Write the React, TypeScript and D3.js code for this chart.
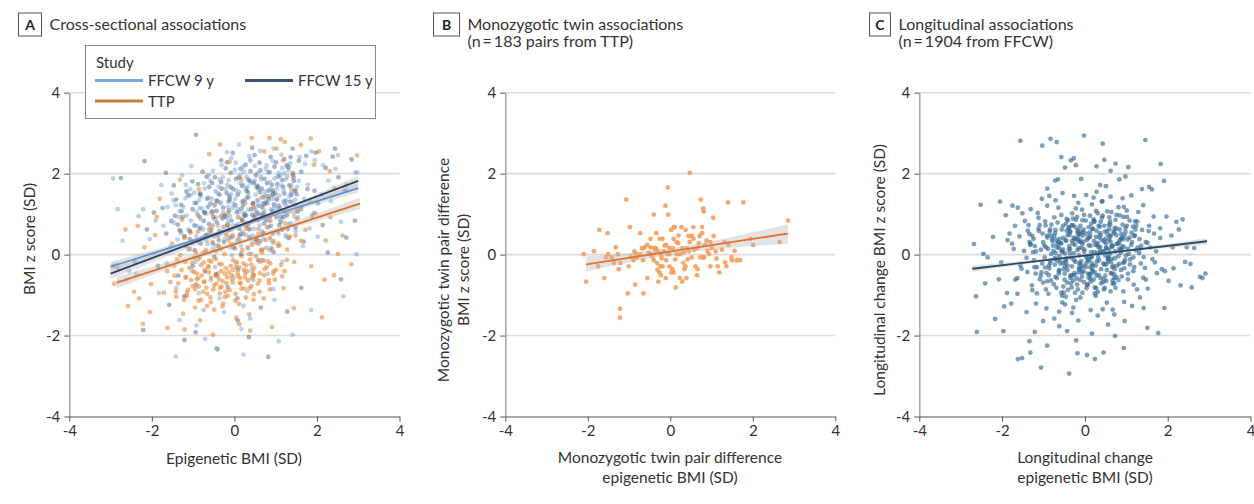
import React, { useEffect, useRef } from 'react';
import * as d3 from 'd3';

// axis ticks shared by all three panels
const axisTicks = [-4, -2, 0, 2, 4];
const gridTicks = [-2, 0, 2, 4];

// Panel A - cross-sectional, flat [x, y, x, y, ...]
const ffcw9Points = [
  0.35,1.42, -0.48,0.87, 1.12,1.95, 0.06,0.33, -1.21,0.45, 0.78,2.21, -0.15,1.18, 1.54,0.92, 0.42,-0.35, -0.72,1.63,
  0.91,1.37, -1.64,-0.22, 0.23,2.05, 1.38,1.71, -0.33,0.12, 0.67,0.58, -0.92,1.05, 2.11,1.48, 0.14,1.76, -0.57,-0.64,
  1.05,0.21, -0.08,2.38, 0.52,1.09, -1.35,0.93, 1.71,2.24, 0.31,-0.91, -0.41,1.52, 0.84,0.83, -2.05,0.38, 1.26,1.22,
  -0.19,0.71, 0.62,2.56, -1.02,-0.41, 1.93,1.03, 0.18,1.31, -0.65,0.26, 0.97,1.88, -1.48,1.34, 0.44,0.47, 2.45,2.12,
  -0.28,1.91, 1.16,-0.18, -0.81,0.68, 0.58,1.61, -2.38,-0.47, 1.47,1.57, 0.03,-0.22, -0.52,2.07, 0.73,1.24, -1.18,1.72,
  1.82,0.65, -0.11,0.95, 0.39,2.31, -1.72,0.71, 1.09,1.46, -0.36,-1.08, 0.86,0.11, -0.97,1.28, 2.72,1.58, 0.27,0.79,
  -0.63,1.41, 1.31,2.08, -1.41,-0.83, 0.49,1.83, -0.02,-0.56, 1.62,1.19, -0.77,0.05, 0.95,2.62, -2.71,0.34, 0.12,1.54,
  1.24,0.48, -0.25,-1.42, 0.69,1.02, -1.56,0.18, 2.28,1.83, -0.44,0.91, 0.33,0.15, 1.58,2.41, -0.86,-0.95, 0.08,1.12,
  -1.27,1.96, 0.81,-0.48, 1.95,2.33, -0.13,0.42, 0.57,1.35, -2.21,1.12, 1.36,0.77, -0.59,1.83, 0.22,-1.27, 1.03,1.63,
  -0.95,-0.18, 2.58,0.81, 0.47,0.64, -0.31,2.21, 1.69,1.38, -1.83,-0.95, 0.11,2.72, 0.88,0.36, -0.69,0.48, 1.21,2.01,
  -0.06,-0.02, 2.93,2.03, 0.64,1.92, -1.12,0.62, 1.44,1.04, 0.26,0.98, -0.38,1.68, 0.94,-0.85, -2.55,-0.41, 1.78,1.73,
  0.17,-1.84, -1.52,1.51, 0.74,1.47, -0.22,0.55, 1.14,2.47, -0.84,1.15, 0.41,0.02, 2.02,0.44, -1.04,2.18, 0.55,1.71,
  -0.47,-0.31, 1.33,1.44, 0.02,1.38, -1.91,0.84, 0.89,1.12, -0.14,1.84, 1.66,0.21, 0.36,2.44, -0.74,-1.37, 1.02,0.95,
  -1.33,-1.62, 2.34,1.32, 0.59,0.26, -0.56,1.06, 1.25,1.86, -0.03,0.72, 0.81,2.03, -1.62,1.18, 0.15,0.51, 1.87,2.55,
  -0.35,1.29, 0.71,-0.15, -1.06,1.47, 1.49,0.57, 0.29,1.63, -0.89,0.33, 2.15,2.21, 0.46,-0.63, -0.18,2.53, 1.18,1.31,
  -2.94,1.88, -2.86,-0.24, 2.98,2.03, 2.96,0.01, -1.42,-2.52, 0.22,-2.47, 1.07,-2.14, -0.71,-2.08, 1.41,-1.98, -2.83,1.12,
  -2.62,-0.62, 2.64,-1.03, 2.51,2.46, -2.32,0.95, 0.38,-1.58, -0.92,-1.75, 1.86,-1.37, -1.77,1.72, 0.97,-1.12, -0.44,-2.31,
  0.12,1.05, -0.42,1.33, 0.87,1.62, -0.91,0.71, 0.35,0.44, 1.28,1.93, -0.17,1.72, 0.63,0.97, -1.24,1.18, 0.94,0.28,
  -0.63,0.52, 0.21,2.17, 1.47,1.36, -0.05,0.63, 0.51,1.48, -1.38,0.37, 0.76,2.12, -0.29,0.96, 1.11,0.86, 0.04,1.59,
  -0.81,1.44, 0.43,0.83, 1.35,2.26, -0.52,0.14, 0.68,1.27, -1.07,1.62, 0.29,1.92, 1.02,1.12, -0.24,0.38, 0.57,2.03,
  -0.68,1.01, 0.16,0.21, 1.19,1.58, -1.46,0.78, 0.82,0.67, -0.12,1.41, 0.47,1.15, -0.87,-0.12, 1.56,1.82, 0.08,0.92,
  -0.36,1.85, 0.71,0.39, -1.16,0.96, 0.32,1.68, 1.23,1.01, -0.58,0.67, 0.93,2.31, -0.02,1.26, 0.61,0.72, -0.97,1.53,
  0.19,0.57, 1.41,1.29, -0.44,0.22, 0.86,1.79, -1.29,0.53, 0.38,2.36, -0.15,0.82, 1.07,0.52, -0.73,1.76, 0.53,1.04,
  -0.21,1.62, 1.32,0.74, 0.01,2.09, -1.02,0.29, 0.74,1.56, -0.49,1.21, 0.26,1.36, 1.16,2.14, -0.83,0.88, 0.44,0.31,
  1.52,1.67, -0.31,0.54, 0.65,1.86, -1.19,1.39, 0.09,0.76, 0.97,1.19, -0.62,1.97, 0.34,1.11, 1.26,0.43, -0.08,1.49,
  -0.92,0.46, 0.55,1.33, 1.08,2.02, -0.39,0.71, 0.21,1.73, -1.33,1.08, 0.81,0.94, -0.11,0.17, 1.37,1.52, 0.37,0.62,
  -0.55,1.38, 0.93,1.46, -1.11,0.12, 0.15,1.97, 1.21,1.25, -0.27,1.04, 0.69,0.51, -0.76,0.62, 0.49,2.19, 1.45,0.94,
  -0.04,1.16, -1.42,1.22, 0.78,1.31, -0.46,1.57, 0.27,0.49, 1.14,1.71, -0.86,1.34, 0.58,0.87, 0.03,2.27, -0.67,0.35,
  1.02,1.38, -0.19,0.92, 0.41,1.77, -1.05,0.84, 1.29,2.17, 0.13,0.36, -0.33,1.27, 0.72,1.09, -0.78,1.13, 0.88,0.16
];

const ffcw15Points = [
  0.41,1.12, -0.36,0.58, 1.04,1.74, -0.12,1.45, 0.62,0.33, -0.88,0.97, 1.35,1.31, 0.15,2.12, -1.17,0.21, 0.83,1.58,
  -0.54,1.77, 1.62,2.05, 0.28,0.71, -1.41,1.36, 0.95,0.06, -0.07,0.84, 1.21,2.36, -0.71,-0.42, 0.52,1.96, 2.03,1.27,
  -0.25,0.31, 0.74,1.28, -1.02,1.81, 1.48,0.67, 0.09,-0.37, -1.65,0.52, 0.88,2.41, -0.43,1.08, 1.77,1.62, 0.33,1.53,
  -0.93,-0.74, 1.13,0.94, -0.18,2.28, 0.67,0.12, -1.28,1.07, 2.21,2.14, 0.21,1.22, -0.62,0.76, 1.43,1.91, -1.85,-0.28,
  0.56,0.85, -0.31,1.63, 0.99,1.51, -1.08,0.38, 1.68,0.32, 0.04,1.87, -0.77,2.05, 1.29,0.63, 0.46,-0.51, -1.53,0.83,
  0.79,1.76, -0.02,0.18, 1.94,1.58, -0.49,-0.06, 0.61,2.27, -2.12,0.62, 1.07,1.21, 0.24,1.02, -0.83,1.48, 2.52,1.91,
  -0.16,-0.81, 0.93,0.52, -1.36,-0.52, 1.56,2.32, 0.37,0.41, -0.58,1.26, 1.22,1.08, -0.04,2.51, 0.71,1.42, -1.74,1.15,
  1.88,0.96, 0.12,0.64, -0.96,0.11, 0.54,1.66, 1.41,2.62, -0.39,0.47, 0.86,0.94, -2.41,-0.18, 0.19,1.69, 1.16,1.84,
  -0.67,1.92, 2.38,2.42, 0.45,1.27, -1.22,-1.03, 0.97,2.17, -0.23,0.93, 1.61,1.12, 0.07,-1.08, -0.84,0.64, 1.32,0.41,
  0.63,2.08, -1.47,1.71, 0.28,0.97, 2.67,1.58, -0.52,0.27, 0.82,1.37, -0.14,1.31, 1.74,2.44, -1.01,-0.29, 0.38,1.81,
  1.09,0.73, -0.32,2.33, 0.58,-0.14, -1.95,1.04, 1.51,1.49, 0.16,0.02, -0.73,1.05, 2.14,0.73, 0.93,1.58, -0.09,1.67,
  -1.31,0.58, 0.49,2.46, 1.27,2.21, -0.45,-0.49, 0.72,0.77, -2.21,-1.86, -0.94,-1.92, 0.35,-2.04, 1.28,-1.41, -1.58,-1.24,
  0.08,-1.63, -0.41,-2.34, 0.64,-1.31, 1.62,-0.82, -1.21,-2.11, 0.82,-2.53, 2.58,-0.61, 2.92,0.84, 2.84,2.35, -2.93,-0.28,
  -2.75,1.89, -2.18,2.31, 2.44,2.62, 1.97,2.52, -0.93,2.96, 1.36,2.41, 0.43,2.64, -1.66,2.02, 2.26,0.05, 2.71,0.42,
  0.22,1.32, -0.51,0.93, 0.96,1.24, -0.14,0.61, 0.47,1.77, -1.08,0.58, 1.21,1.51, 0.06,1.04, -0.66,1.38, 0.71,0.53,
  1.44,1.82, -0.27,1.16, 0.35,0.77, -0.93,1.27, 0.85,2.04, -0.03,1.62, 1.12,0.81, -1.25,0.93, 0.58,1.21, -0.38,0.36,
  0.27,2.22, 1.03,1.36, -0.74,0.83, 0.43,0.98, 1.31,2.16, -0.19,1.52, 0.66,1.63, -1.16,1.56, 0.13,0.48, 0.92,1.08,
  -0.47,1.91, 1.49,1.23, 0.31,1.41, -0.82,0.27, 0.76,0.86, -0.09,2.02, 1.18,1.67, -1.37,0.74, 0.52,0.37, -0.29,0.89,
  0.83,1.44, 0.02,1.22, -0.61,1.67, 1.27,0.97, 0.39,2.06, -1.01,1.12, 0.67,1.17, -0.17,0.74, 1.06,1.93, 0.19,0.86,
  -0.43,1.33, 1.38,1.48, -0.88,1.74, 0.57,1.02, -0.06,0.43, 0.91,1.72, -1.21,0.44, 0.29,1.58, 1.16,0.62, -0.56,0.61,
  0.45,1.26, -0.32,1.79, 1.53,1.06, 0.11,1.91, -0.72,1.03, 0.79,1.27, -1.44,0.96, 0.36,0.63, 1.01,2.28, -0.24,0.97,
  0.62,1.54, -0.97,0.72, 1.24,1.33, -0.11,1.36, 0.48,0.92, 1.42,2.01, -0.64,1.18, 0.17,1.13, 0.88,0.71, -0.36,1.48,
  -1.12,1.46, 0.73,1.87, 0.05,0.71, 1.11,1.14, -0.53,1.06, 0.34,1.85, -0.83,1.51, 1.33,1.71, 0.24,0.96, -0.21,2.13,
  0.94,1.51, -0.42,0.79, 0.57,1.68, -1.29,1.23, 1.19,0.92, 0.08,1.48, -0.69,0.47, 0.69,0.98, 1.47,1.58, -0.13,1.09
];

const ttpPoints = [
  -0.45,-0.52, 0.32,0.18, -1.12,-0.87, 0.05,-0.31, -0.78,0.42, 0.61,-0.64, -0.23,-1.05, 1.05,0.57, -1.46,-0.28, 0.18,0.83,
  -0.61,-0.15, 0.87,-0.22, -0.95,-1.31, 0.41,-0.78, -0.08,0.26, -1.33,0.61, 1.28,0.12, -0.37,-0.61, 0.72,1.24, -1.71,-0.94,
  0.26,-0.46, -0.52,0.72, 1.52,0.88, -0.88,-0.58, 0.11,-1.22, -1.08,0.14, 0.95,-0.41, -0.19,0.48, -2.02,-0.73, 0.55,0.35,
  -0.66,-0.97, 1.84,1.31, -0.31,-0.24, 0.38,-0.12, -1.24,-1.46, 0.79,0.68, -0.04,-0.69, -0.84,0.93, 1.16,-0.54, -0.44,0.08,
  -1.02,-0.21, 0.21,0.51, -0.57,-1.18, 0.67,0.05, -1.51,0.27, 1.38,1.62, -0.13,-0.43, 0.47,-0.98, -0.93,0.36, 0.02,0.15,
  -0.35,-0.82, 1.02,0.92, -1.18,-0.55, 0.29,-0.27, -0.72,-0.38, 0.84,-0.71, -0.16,1.02, -1.39,-0.12, 0.58,0.63, -0.49,-1.36,
  1.61,0.34, -0.86,-0.79, 0.14,-0.58, -0.27,0.68, 1.23,0.78, -1.63,-0.41, 0.43,0.24, -0.69,0.11, 0.92,1.47, -1.15,-1.02,
  0.09,0.39, -0.41,-0.47, 0.73,-0.36, -1.92,0.48, 1.45,-0.18, -0.22,-0.92, 0.51,0.97, -0.97,-0.08, 0.36,-1.48, -0.58,0.52,
  1.09,0.22, -1.27,0.86, -0.03,-0.14, 0.66,1.41, -0.81,-1.12, 1.72,0.61, -0.38,0.22, 0.24,-0.84, -1.55,-0.68, 0.86,0.42,
  -0.11,0.62, -0.74,-0.66, 1.33,1.06, -0.29,-1.28, 0.48,-0.52, -1.06,0.54, 0.17,-0.04, 1.96,1.02, -0.63,-0.29, 0.04,-1.56,
  -1.42,-0.92, 0.77,0.16, -0.47,1.24, 1.19,-0.83, -0.91,-0.47, 0.31,0.71, -2.31,-1.08, 0.62,-0.18, -0.18,-0.56, 1.48,0.47,
  1.12,2.85, 1.22,2.78, 1.85,2.87, 0.42,2.88, 1.02,2.62, -0.35,2.72, 0.72,2.55, 2.31,2.06, -1.32,1.85, 2.05,2.55,
  -0.61,2.48, 0.85,2.88, 1.61,2.71, 1.18,2.33, 1.93,2.22, -0.12,2.29, 1.42,1.96, 2.42,1.64, 0.16,1.86, -0.86,1.62,
  -1.62,-1.81, -2.22,-1.71, 0.91,-1.79, 2.12,-1.55, -0.52,-1.98, 0.38,-1.88, -1.21,-1.85, 1.44,-1.32, -0.83,-1.63, 0.12,-1.72,
  2.51,0.02, 2.83,-0.24, 2.62,0.47, 2.97,2.45, 2.41,-0.51, 2.21,0.35, 2.71,1.72, 2.18,-0.62, 1.86,-0.29, 2.33,0.92,
  -2.82,-0.34, -2.64,0.62, -2.43,-0.92, -2.18,0.18, -1.88,0.93, -2.58,-1.27, -1.81,1.38, -2.05,-1.42, -2.34,0.71, -2.91,-0.72,
  -0.32,-0.41, 0.15,-0.72, -0.81,-0.26, 0.48,-0.33, -0.12,-0.88, -1.05,-0.63, 0.72,-0.51, -0.45,-0.11, 0.28,-1.06, -0.68,-0.82,
  0.91,0.14, -0.21,-0.34, -1.28,-0.38, 0.36,0.02, -0.57,-0.57, 0.08,-0.46, -0.93,0.05, 0.61,-0.92, -0.27,-1.21, 1.13,-0.26,
  -0.74,-0.19, 0.22,-0.22, -1.15,-0.94, 0.54,0.29, -0.06,-0.61, -0.49,-0.76, 0.83,-0.63, -0.98,-0.43, 0.31,-0.41, -0.36,0.18,
  -1.36,-0.71, 0.68,-0.14, -0.16,-1.02, 0.42,-0.58, -0.63,-0.31, 1.01,-0.38, -0.87,-1.14, 0.11,-0.31, -0.41,-0.53, 0.76,0.36,
  -1.19,-0.18, 0.03,-0.97, -0.53,0.31, 0.57,-0.72, -0.23,-0.47, -0.79,-0.52, 0.94,-0.47, -1.45,-0.52, 0.19,0.11, -0.35,-0.96,
  0.46,-1.12, -0.71,0.06, 1.21,-0.41, -0.09,-0.28, -1.01,-0.78, 0.33,-0.64, -0.58,-1.06, 0.78,-0.31, -0.14,0.36, -1.22,-1.12,
  0.62,-0.46, -0.44,-0.72, 0.09,-0.53, -0.91,-0.61, 1.06,0.27, -0.28,-0.66, 0.41,-0.24, -0.66,-1.27, 0.17,-0.84, -1.31,-0.02,
  0.86,-0.86, -0.03,-0.38, -0.76,-0.92, 0.52,-0.04, -0.37,-0.23, -1.09,-0.33, 0.26,-0.56, 0.71,-1.08, -0.51,-0.86, 0.06,-0.18,
  -0.19,-0.71, 0.98,-0.62, -0.84,-0.07, 0.37,-0.83, -1.41,-1.04, 0.13,-0.69, -0.62,-0.44, 0.64,0.11, -0.24,0.01, -0.95,-0.85,
  1.27,-0.13, -0.07,-0.51, -0.56,-0.17, 0.44,-0.43, -1.18,-0.57, 0.81,-0.17, -0.31,-0.79, 0.23,-0.38, -0.73,-0.68, 0.02,-1.14,
  -0.48,0.45, 0.58,0.51, -1.02,0.33, 0.29,0.63, -0.15,0.73, 0.87,0.84, -0.61,0.62, 1.15,0.62, 0.12,0.92, -0.88,0.57,
  0.47,1.18, -0.32,0.95, 1.34,0.45, -1.21,0.41, 0.72,1.02, -0.04,0.48, 0.95,0.33, -0.54,1.01, 0.26,1.27, 1.52,1.08
];

// Panel B - twin pair differences (TTP)
const twinPoints = [
  0.47,2.02, -0.06,1.66, -1.07,1.36, 0.74,1.36, 1.40,1.29, 1.77,1.29, -0.12,1.21, 0.80,1.14, 0.81,1.07, -0.40,0.99,
  -0.05,0.99, 1.04,0.91, 2.85,0.84, -0.98,0.68, 0.08,0.68, 0.27,0.68, 0.11,0.68, 0.56,0.68, 0.77,0.68, -1.72,0.61,
  -1.52,0.53, -0.73,0.53, -0.34,0.53, 0.02,0.61, 0.37,0.61, 0.44,0.46, 0.52,0.46, 0.71,0.46, 0.77,0.53, 1.05,0.46,
  1.94,0.39, -0.26,0.39, -0.19,0.39, -0.48,0.39, 0.08,0.39, 0.15,0.31, 0.47,0.31, 0.56,0.39, 0.97,0.31, 1.31,0.31,
  1.41,0.24, 2.01,0.24, 2.65,0.31, -0.56,0.24, -0.48,0.18, -0.62,0.18, -0.40,0.16, -0.35,0.16, -0.69,0.16, -0.66,0.16,
  -0.10,0.24, -0.02,0.16, 0.06,0.16, 0.29,0.16, 0.40,0.16, 0.65,0.16, 0.84,0.24, 0.90,0.09, 1.01,0.16, 1.56,0.09,
  -2.10,0.01, -1.85,0.08, -1.51,0.01, -1.42,-0.07, -1.27,0.01, -0.87,0.08, -0.81,-0.07, -0.73,0.01, -0.48,0.01, -0.29,0.08,
  -0.23,0.01, -0.16,0.08, -0.06,0.01, -0.03,0.01, 0.16,0.01, 0.24,0.01, 0.45,0.08, 0.52,-0.07, 0.73,-0.07, 0.79,-0.07,
  0.82,-0.07, 0.94,0.01, 1.10,0.08, 1.48,-0.07, 1.50,-0.14, 1.61,-0.14, 1.69,-0.14, -1.56,-0.07, -1.75,-0.29, -1.37,-0.21,
  -1.21,-0.21, -1.01,-0.29, -1.25,-0.36, -0.89,-0.14, -0.66,-0.14, -0.40,-0.14, -0.32,-0.21, -0.24,-0.29, -0.19,-0.29, -0.10,-0.14,
  -0.02,-0.29, 0.05,-0.36, 0.08,-0.44, 0.32,-0.21, 0.34,-0.36, 0.37,-0.29, 0.61,-0.29, 0.66,-0.36, 0.65,-0.51, 0.97,-0.29,
  1.15,-0.29, 1.19,-0.44, 1.36,-0.29, -0.56,-0.58, -0.29,-0.67, -0.11,-0.58, 0.02,-0.44, 0.23,-0.58, 0.29,-0.67, 0.39,-0.58,
  0.13,-0.81, -0.85,-0.74, -2.04,-0.67, -1.60,-0.58, -1.03,-0.96, -0.65,-0.96, -1.22,-1.34, -1.22,-1.56, -0.26,-0.44, -0.23,-0.51,
  -0.36,0.10, -0.14,0.22, 0.19,0.28, 0.33,0.05, -0.44,-0.05, 0.58,0.12, -0.83,0.02, 0.12,-0.12, 0.69,0.28, -0.21,-0.09,
  0.42,-0.12, -0.52,0.05, 0.88,0.35, 1.25,0.12, -0.95,-0.05, 0.20,0.47, -0.31,-0.38, 1.12,-0.10, 1.33,-0.19, -1.32,0.18
];

// Panel C - longitudinal change (FFCW)
const longitudinalPoints = [
  -0.12,0.35, 0.45,-0.22, -0.67,0.18, 0.23,0.81, -1.05,-0.44, 0.88,0.12, -0.34,-0.71, 1.21,0.47, 0.05,-0.09, -0.56,0.62,
  0.71,-0.58, -1.32,0.24, 0.38,0.05, -0.21,-1.12, 1.02,0.93, -0.83,-0.15, 0.17,1.24, 0.62,-0.91, -0.48,0.03, 1.45,-0.33,
  -0.05,0.56, -1.68,-0.62, 0.92,0.38, -0.29,0.27, 0.54,1.07, -0.95,0.72, 0.11,-0.48, 1.33,0.15, -0.62,-0.38, 0.29,-0.17,
  -1.14,1.03, 0.76,0.64, -0.41,-0.87, 1.67,0.52, -0.18,0.11, 0.43,-1.35, -0.74,0.45, 1.09,-0.12, 0.02,0.84, -1.47,0.09,
  0.35,0.42, -0.88,-0.97, 0.64,0.21, -0.26,1.45, 1.18,-0.74, -0.53,-0.21, 0.81,1.17, -1.22,-0.31, 0.21,-0.62, -0.09,-0.33,
  0.14,0.22, -0.37,0.49, 0.57,-0.05, -0.71,-0.55, 0.98,0.66, -0.15,-0.44, 0.31,1.02, -1.01,0.31, 0.69,-0.28, -0.44,0.88,
  1.51,0.29, -0.02,-0.68, 0.48,0.57, -0.81,0.02, 0.26,-1.02, -1.58,0.45, 0.84,0.35, -0.23,-0.18, 1.26,0.82, -0.64,1.16,
  0.07,0.41, -0.96,-0.32, 0.59,0.92, -0.32,-0.51, 1.04,-0.47, -0.11,0.71, 0.39,-0.36, -1.28,-0.76, 0.73,0.08, -0.58,0.28,
  1.38,0.61, 0.19,-0.27, -0.46,-1.04, 0.95,-0.18, -0.07,1.11, 0.51,0.16, -1.11,0.58, 0.28,0.59, -0.69,-0.82, 1.63,-0.11,
  -0.27,0.03, 0.67,-0.72, -1.41,-0.08, 0.12,0.96, 0.88,0.51, -0.52,0.41, 0.46,-0.61, -0.17,-0.86, 1.12,0.24, -0.91,1.21,
  0.04,-0.21, -0.39,0.66, 0.77,0.26, -1.19,-0.47, 0.33,0.18, -0.76,0.09, 1.29,1.05, -0.04,0.32, 0.61,0.74, -0.31,-0.29,
  -0.61,-0.12, 0.24,-0.81, 1.41,-0.57, -1.63,-0.97, 0.87,-0.38, -0.13,0.51, 0.42,1.32, -0.85,0.57, 0.16,-0.05, 1.01,0.71,
  -0.49,-0.62, 0.58,0.37, -1.36,0.73, 0.09,-0.57, 0.72,-0.09, -0.22,0.86, 1.19,-0.31, -0.73,-0.25, 0.36,0.69, -0.03,-0.42,
  1.72,0.08, -1.06,0.12, 0.52,-0.24, -0.36,0.14, 0.94,1.18, -0.57,-0.94, 0.27,0.44, -1.24,0.39, 0.65,-0.47, -0.14,-0.02,
  1.54,0.58, -0.42,-0.38, 0.81,-0.63, -0.91,0.47, 0.18,0.63, -0.28,-1.31, 1.08,0.42, -1.72,0.14, 0.44,0.08, -0.66,0.79,
  0.99,-0.02, -0.19,-0.59, 0.63,0.48, -1.53,-0.35, 0.13,-0.31, 1.35,-0.22, -0.54,0.06, 0.31,0.29, -0.82,-0.64, 0.76,0.98,
  -0.08,0.17, 0.55,-0.11, -1.16,-0.96, 0.21,1.41, -0.45,0.34, 1.23,0.11, -0.72,-0.09, 0.06,-0.73, 0.89,0.21, -0.35,0.57,
  -0.98,0.23, 0.47,0.32, -0.12,-0.24, 1.47,0.31, -0.63,-0.47, 0.34,-0.51, -1.34,0.51, 0.71,0.54, -0.25,0.38, 0.15,0.06,
  1.86,-0.36, -1.87,0.36, 0.93,-0.91, -0.55,-1.18, 0.38,0.81, -1.09,-0.61, 1.16,0.69, -0.16,1.28, 0.61,0.03, -0.87,-0.27,
  0.03,0.52, -0.47,-0.14, 0.83,-0.23, -0.32,0.72, 0.48,-0.82, -1.25,0.06, 1.04,0.15, -0.06,-0.94, 0.26,0.24, -0.68,0.36,
  0.08,-0.15, -0.27,0.42, 0.51,0.27, -0.63,-0.41, 0.19,0.64, -0.94,0.18, 0.72,-0.36, -0.11,-0.63, 0.37,0.09, -0.46,0.76,
  0.96,0.47, -0.33,-0.08, 0.24,-0.44, -0.78,0.33, 0.61,0.82, -0.06,0.26, 1.17,-0.07, -0.52,-0.79, 0.13,0.46, -1.03,-0.22,
  0.44,-0.68, -0.19,0.93, 0.83,0.14, -0.71,0.61, 0.02,-0.31, 1.32,0.38, -0.38,0.21, 0.56,-0.17, -0.87,-0.51, 0.27,1.08,
  -0.14,-0.37, 0.69,0.57, -1.18,0.08, 0.31,-0.92, -0.42,0.48, 0.89,-0.54, -0.01,0.13, 0.47,0.71, -0.66,-0.16, 1.06,0.02,
  -0.23,0.68, 0.16,-0.06, -0.91,-0.66, 0.62,0.32, -0.35,-0.52, 1.24,0.71, 0.04,-0.83, -0.58,0.28, 0.78,-0.27, -1.27,0.46,
  0.29,0.24, -0.48,-0.29, 0.93,0.93, -0.09,0.53, 0.53,-0.38, -0.74,0.92, 0.11,-0.12, 1.42,-0.06, -0.31,1.02, 0.66,0.19,
  -0.97,-0.07, 0.38,-0.58, -0.17,0.34, 0.84,0.62, -0.55,-1.02, 0.21,0.87, -1.39,-0.43, 0.74,-0.82, -0.05,0.47, 0.49,-0.02,
  -0.39,0.12, 1.13,0.54, -0.82,0.47, 0.07,-0.47, 0.64,1.05, -0.24,-0.94, 0.41,0.36, -1.09,0.73, 0.97,-0.13, -0.13,-0.21,
  0.26,-0.27, -0.67,0.26, 0.55,0.49, -0.28,-0.64, 1.08,0.84, -0.44,0.59, 0.14,-0.67, -1.23,-0.14, 0.82,0.29, -0.02,0.98,
  0.71,-0.49, -0.53,0.13, 0.33,0.71, -0.86,-0.34, 0.09,0.23, 1.27,0.17, -0.18,0.58, 0.46,-0.86, -0.75,-0.73, 0.59,0.63,
  -0.07,-0.54, 0.87,0.39, -1.12,0.64, 0.23,0.06, -0.41,0.84, 0.67,-0.64, -0.26,-0.14, 1.01,1.09, -0.61,0.39, 0.18,-0.37,
  0.41,0.91, -0.94,-0.86, 0.57,-0.09, -0.15,0.16, 0.95,-0.34, -0.49,-0.47, 0.12,0.55, -0.77,0.22, 1.19,0.46, -0.29,0.73,
  0.34,-0.14, -0.59,-0.22, 0.76,0.48, -1.31,0.27, 0.06,-0.76, 0.52,0.16, -0.21,0.39, 0.91,0.74, -0.84,0.62, 0.28,-0.52,
  -0.44,-0.09, 1.36,0.22, -0.06,0.85, 0.63,-0.46, -0.71,0.04, 0.17,-0.22, -1.02,0.52, 0.81,-0.04, -0.32,-0.81, 0.49,0.38,
  -0.16,0.44, 0.72,0.66, -0.53,0.71, 0.03,-0.04, 1.04,-0.61, -0.89,0.14, 0.39,-0.71, -0.37,0.57, 0.86,0.11, -0.11,-1.06,
  0.58,0.12, -0.68,-0.58, 0.22,0.33, -1.16,-0.31, 0.47,-0.25, -0.03,0.62, 1.14,0.31, -0.47,0.36, 0.74,0.86, -0.25,-0.46,
  0.15,0.76, -0.79,0.38, 0.93,-0.21, -0.36,0.03, 0.36,0.53, -1.07,-0.52, 0.64,-0.11, -0.14,-0.32, 1.22,0.62, -0.57,0.98,
  0.05,0.36, -0.43,-0.69, 0.79,0.27, -0.24,0.24, 0.52,-0.65, -0.96,0.82, 0.31,0.04, -0.62,-0.04, 1.09,-0.24, 0.13,-0.59,
  -0.31,0.34, 0.66,-0.31, -0.84,-0.21, 0.43,0.96, -0.09,-0.16, 0.98,0.56, -0.51,-0.36, 0.24,-0.96, -1.21,0.21, 0.89,0.42,
  -0.02,0.07, 0.61,0.44, -0.72,0.53, 0.18,-0.41, -0.38,0.67, 1.31,0.04, -0.19,-0.74, 0.54,0.58, -0.93,-0.45, 0.37,0.19,
  0.27,-0.83, -0.57,0.09, 0.84,0.97, -0.12,0.31, 0.49,-0.52, -1.34,0.31, 0.09,0.68, -0.46,-0.19, 0.71,-0.71, -0.22,1.14,
  0.94,0.19, -0.35,-0.58, 0.32,-0.06, -0.81,0.74, 0.58,0.74, -0.07,-0.43, 1.17,-0.41, -0.63,0.17, 0.22,0.83, -1.01,-0.69,
  0.46,0.07, -0.17,0.52, 0.76,-0.56, -0.51,-0.94, 0.11,0.42, -0.73,-0.11, 1.03,0.37, -0.29,0.89, 0.63,-0.19, -0.04,-0.27,
  -0.91,0.42, 0.38,0.48, -0.26,-0.51, 0.87,0.05, -0.64,0.31, 0.14,-0.49, 1.21,0.82, -0.42,-0.27, 0.67,0.23, -0.15,0.62,
  -1.45,0.83, 1.52,-0.84, -1.31,1.12, 1.66,0.94, -1.63,-0.58, 1.41,1.22, -0.54,1.52, 0.71,-1.48, -1.18,-1.21, 1.74,-0.46,
  0.28,1.55, -0.93,-1.33, 1.33,-1.06, -1.76,0.27, 0.91,1.39, -0.31,-1.44, 1.58,0.18, -1.51,1.02, 0.53,-1.19, -0.71,1.34,
  1.82,0.41, -1.27,-0.88, 0.14,-1.37, 1.12,1.46, -1.69,0.71, 0.62,1.43, -0.48,-1.23, 1.47,-0.62, -1.04,1.38, 0.95,-1.17,
  -1.56,-0.27, 0.41,1.31, 1.69,-0.19, -0.86,1.45, 1.26,-0.86, -1.38,0.59, 0.03,1.47, -0.62,-1.41, 1.55,0.71, -1.12,0.91,
  // spread outward
  -1.91,0.97, -2.08,-0.61, -2.41,-0.71, -2.68,0.26, -2.52,1.23, -2.63,-1.03, -2.22,0.44, -1.95,-1.28, -2.35,-0.07, -2.05,1.31,
  -1.75,1.21, -1.62,1.16, -1.88,-0.95, -2.17,-1.59, -2.61,-1.91, -1.97,-1.89, -1.82,0.52, -2.02,-0.19, -2.45,0.02, -1.78,-1.21,
  2.21,0.81, 2.36,0.87, 2.14,-0.34, 2.58,-0.81, 2.91,-0.47, 2.78,-0.55, 2.46,0.18, 2.64,0.16, 2.09,0.47, 2.31,-0.76,
  1.97,0.94, 2.02,-0.65, 2.84,-0.58, 2.42,-0.18, 1.92,-1.32, 1.93,-0.41, 2.27,0.62, 2.55,-0.23, 1.82,0.65, 2.12,0.18,
  -1.56,2.81, -1.03,2.69, -0.83,2.86, -0.68,2.78, -0.02,2.94, 0.43,2.74, 1.46,2.83, -0.57,2.41, -0.34,2.33, -0.27,2.38,
  -0.48,2.15, -0.22,2.21, 0.28,2.18, 0.47,2.34, 0.62,2.07, 0.74,2.25, 1.05,2.16, 1.83,2.24, 1.91,1.82, 0.83,1.86,
  -0.65,1.86, -0.72,1.83, -0.09,1.87, 0.98,1.93, 1.55,1.67, 1.38,1.62, 1.62,1.61, 0.37,1.72, 0.51,1.69, -0.91,1.63,
  -1.06,-2.79, -0.38,-2.94, 0.24,-2.58, 0.45,-2.42, -1.62,-2.58, -1.52,-2.56, -1.32,-2.42, 0.94,-2.31, -0.91,-2.25, -0.18,-2.44,
  -0.21,-2.12, 0.05,-2.48, 0.73,-2.01, 1.77,-1.94, 1.51,-1.81, -1.34,-2.14, -1.21,-1.91, -0.43,-1.89, 0.17,-1.95, -0.62,-1.77,
  0.56,-1.73, 0.96,-1.64, -1.01,-1.64, 1.42,-1.32, 0.31,-1.51, -0.16,-1.63, -0.74,-1.58, 1.14,-1.27, -1.41,-1.42, 0.67,-1.36
];

// regression lines [x0, y0, x1, y1]
const fitFfcw9 = [-3.0, -0.3, 3.0, 1.64];
const fitFfcw15 = [-3.0, -0.47, 3.0, 1.82];
const fitTtp = [-2.85, -0.69, 3.04, 1.26];
const fitTwin = [-2.04, -0.24, 2.85, 0.52];
const fitLong = [-2.72, -0.35, 2.95, 0.33];

// 95% CI bands: [x, lower, upper]
const bandFfcw9 = [[-3.0, -0.42, -0.18], [0.2, 0.69, 0.77], [3.0, 1.52, 1.77]];
const bandFfcw15 = [[-3.0, -0.6, -0.34], [0.2, 0.67, 0.75], [3.0, 1.69, 1.95]];
const bandTtp = [[-2.85, -0.83, -0.55], [0.1, 0.25, 0.35], [3.04, 1.12, 1.41]];
const bandTwin = [[-2.04, -0.42, -0.05], [0.3, 0.04, 0.2], [2.85, 0.27, 0.75]];
const bandLong = [[-2.72, -0.43, -0.27], [0.1, -0.03, 0.02], [2.95, 0.25, 0.41]];

const legendItems = [
  { label: 'FFCW 9 y', color: '#7ea8dc' },
  { label: 'FFCW 15 y', color: '#3d5172' },
  { label: 'TTP', color: '#c97b38' },
];

const toPairs = (flat: number[]) => d3.range(0, flat.length, 2).map((i) => [flat[i], flat[i + 1]]);

function App() {
  const ref = useRef<SVGSVGElement>(null);

  useEffect(() => {
    const svg = d3.select(ref.current);
    svg.selectAll('*').remove();

    const font = 'Lato, "Open Sans", sans-serif';
    const textColor = '#333';
    const y = d3.scaleLinear().domain([-4, 4]).range([416.5, 92.7]);

    // frame: gridlines, axes and tick labels
    const drawFrame = (x: d3.ScaleLinear<number, number>) => {
      const g = svg.append('g');
      g.selectAll('line.grid')
        .data(gridTicks)
        .join('line')
        .attr('x1', x(-4))
        .attr('x2', x(4))
        .attr('y1', (d) => y(d))
        .attr('y2', (d) => y(d))
        .attr('stroke', '#dcdcdc')
        .attr('stroke-width', 1.6);

      const left = g
        .append('g')
        .attr('transform', `translate(${x(-4)},0)`)
        .call(d3.axisLeft(y).tickValues(axisTicks).tickSize(5).tickSizeOuter(0).tickPadding(4).tickFormat((d) => String(d)));
      left.select('.domain').attr('stroke', '#aaa').attr('stroke-width', 1.6);
      left.selectAll('.tick line').attr('stroke', '#555');
      left.selectAll('.tick text').attr('font-family', font).attr('font-size', 15).attr('fill', textColor);

      const bottom = g
        .append('g')
        .attr('transform', `translate(0,${y(-4)})`)
        .call(d3.axisBottom(x).tickValues(axisTicks).tickSize(5).tickSizeOuter(0).tickPadding(4).tickFormat((d) => String(d)));
      bottom.select('.domain').attr('stroke', '#555').attr('stroke-width', 1.2);
      bottom.selectAll('.tick line').attr('stroke', '#555');
      bottom.selectAll('.tick text').attr('font-family', font).attr('font-size', 15).attr('fill', textColor);
      return g;
    };

    const drawPoints = (x, pts, color, opacity) => {
      svg
        .append('g')
        .selectAll('circle')
        .data(pts)
        .join('circle')
        .attr('cx', (d) => x(d[0]))
        .attr('cy', (d) => y(d[1]))
        .attr('r', 2.4)
        .attr('fill', color)
        .attr('fill-opacity', opacity);
    };

    const drawFit = (x, fit, band, color) => {
      const area = d3
        .area<number[]>()
        .x((d) => x(d[0]))
        .y0((d) => y(d[1]))
        .y1((d) => y(d[2]))
        .curve(d3.curveNatural);
      svg.append('path').attr('d', area(band)).attr('fill', '#b8b8b8').attr('fill-opacity', 0.4);
      svg
        .append('line')
        .attr('x1', x(fit[0]))
        .attr('y1', y(fit[1]))
        .attr('x2', x(fit[2]))
        .attr('y2', y(fit[3]))
        .attr('stroke', color)
        .attr('stroke-width', 1.8);
    };

    const drawHeader = (bx, bw, letter, lines) => {
      svg.append('rect').attr('x', bx).attr('y', 13).attr('width', bw).attr('height', 23)
        .attr('fill', 'white').attr('stroke', '#555').attr('stroke-width', 1);
      svg.append('text').attr('x', bx + bw / 2).attr('y', 30).attr('text-anchor', 'middle')
        .attr('font-family', font).attr('font-weight', 'bold').attr('font-size', 14).attr('fill', '#222').text(letter);
      lines.forEach((t, i) => {
        svg.append('text').attr('x', bx + bw + 8).attr('y', 30 + i * 17)
          .attr('font-family', font).attr('font-size', 16).attr('fill', textColor).text(t);
      });
    };

    const axisTitle = (tx, ty, lines, rotate) => {
      lines.forEach((t, i) => {
        const el = svg.append('text').attr('text-anchor', 'middle').attr('font-family', font)
          .attr('font-size', 15.5).attr('fill', textColor).text(t);
        if (rotate) el.attr('transform', `translate(${tx + i * 20},${ty}) rotate(-90)`);
        else el.attr('x', tx).attr('y', ty + i * 20);
      });
    };

    // ---- Panel A
    const xA = d3.scaleLinear().domain([-4, 4]).range([69.3, 399.5]);
    drawFrame(xA);
    const p9 = toPairs(ffcw9Points);
    const p15 = toPairs(ffcw15Points);
    const pT = toPairs(ttpPoints);
    const n = Math.max(p9.length, p15.length, pT.length);
    const gA = svg.append('g');
    for (let i = 0; i < n; i++) {
      [[p9[i], '#6d9ed8', 0.45], [pT[i], '#ec8a3a', 0.6], [p15[i], '#415a80', 0.45]].forEach(([p, c, o]) => {
        if (!p) return;
        gA.append('circle').attr('cx', xA(p[0])).attr('cy', y(p[1])).attr('r', 2.4)
          .attr('fill', c).attr('fill-opacity', o);
      });
    }
    drawFit(xA, fitFfcw9, bandFfcw9, '#5e90d2');
    drawFit(xA, fitFfcw15, bandFfcw15, '#2c4266');
    drawFit(xA, fitTtp, bandTtp, '#dd7128');

    // legend
    const lg = svg.append('g');
    lg.append('rect').attr('x', 85.5).attr('y', 45.5).attr('width', 290).attr('height', 73)
      .attr('fill', 'white').attr('stroke', '#888').attr('stroke-width', 1);
    lg.append('text').attr('x', 96).attr('y', 68).attr('font-family', font).attr('font-size', 15)
      .attr('fill', textColor).text('Study');
    const legendPos = [[95, 80.5], [245, 80.5], [95, 101]];
    legendItems.forEach((d, i) => {
      const [lx, ly] = legendPos[i];
      lg.append('line').attr('x1', lx).attr('x2', lx + 48).attr('y1', ly).attr('y2', ly)
        .attr('stroke', d.color).attr('stroke-width', 3);
      lg.append('text').attr('x', lx + 53).attr('y', ly + 5.5).attr('font-family', font)
        .attr('font-size', 15).attr('fill', textColor).text(d.label);
    });

    drawHeader(18.5, 23, 'A', ['Cross-sectional associations']);
    axisTitle(234, 464, ['Epigenetic BMI (SD)'], false);
    axisTitle(35, 239, ['BMI z score (SD)'], true);

    // ---- Panel B
    const xB = d3.scaleLinear().domain([-4, 4]).range([505.3, 835.3]);
    drawFrame(xB);
    drawPoints(xB, toPairs(twinPoints), '#f49a55', 0.85);
    drawFit(xB, fitTwin, bandTwin, '#e8702a');
    drawHeader(433.5, 26, 'B', ['Monozygotic twin associations', '(n\u2009=\u2009183 pairs from TTP)']);
    axisTitle(670, 463, ['Monozygotic twin pair difference', 'epigenetic BMI (SD)'], false);
    axisTitle(449, 270, ['Monozygotic twin pair difference', 'BMI z score (SD)'], true);

    // ---- Panel C
    const xC = d3.scaleLinear().domain([-4, 4]).range([919.3, 1250.5]);
    drawFrame(xC);
    drawPoints(xC, toPairs(longitudinalPoints), '#2f6592', 0.62);
    drawFit(xC, fitLong, bandLong, '#284868');
    drawHeader(869.5, 21, 'C', ['Longitudinal associations', '(n\u2009=\u20091904 from FFCW)']);
    axisTitle(1085, 463, ['Longitudinal change', 'epigenetic BMI (SD)'], false);
    axisTitle(885, 270, ['Longitudinal change BMI z score (SD)'], true);
  }, []);

  return (
    <svg
      ref={ref}
      width={1254}
      height={504}
      style={{ position: 'absolute', left: 0, top: 0, background: 'white' }}
    />
  );
}

export default App;
